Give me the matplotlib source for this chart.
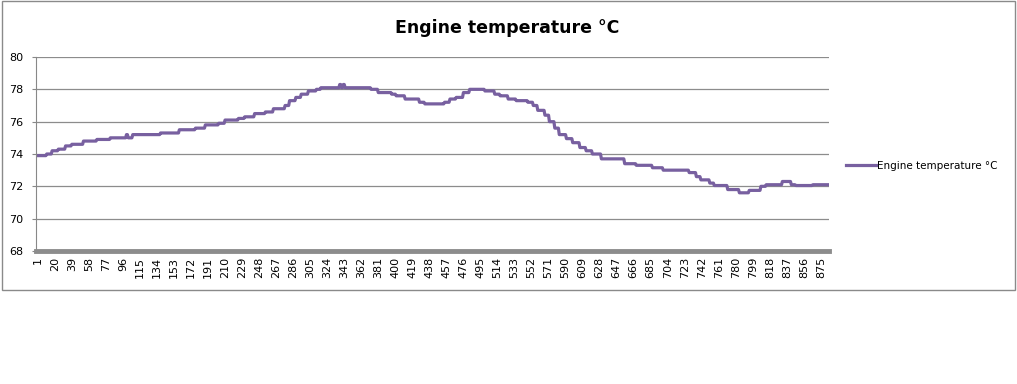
import numpy as np
import matplotlib.pyplot as plt
from matplotlib.patches import Rectangle

# step levels of the logged temperature and the last sample index of each level
levels = [73.9, 74.0, 74.2, 74.3, 74.5, 74.6, 74.8, 74.9, 75.0, 75.2, 75.0, 75.2, 75.3,
          75.5, 75.6, 75.8, 75.9, 76.1, 76.2, 76.3, 76.5, 76.6, 76.8, 77.0, 77.3,
          77.5, 77.7, 77.9, 78.0, 78.1, 78.3, 78.1, 78.3, 78.1, 78.0, 77.8, 77.7,
          77.6, 77.4, 77.2, 77.1, 77.2, 77.4, 77.5, 77.8, 78.0, 77.9, 77.7, 77.6,
          77.4, 77.3, 77.2, 77.0, 76.7, 76.4, 76.0, 75.6, 75.2, 74.95, 74.7, 74.4,
          74.2, 74.0, 73.7, 73.4, 73.3, 73.15, 73.0, 72.85, 72.6, 72.4, 72.2,
          72.05, 71.8, 71.6, 71.75, 72.0, 72.1, 72.3, 72.1, 72.05, 72.1]
ends = [10, 16, 23, 31, 38, 51, 66, 81, 99, 101, 106, 137, 158,
        176, 187, 202, 209, 224, 231, 242, 254, 263, 276, 281, 288,
        294, 302, 311, 316, 337, 339, 341, 343, 372, 380, 395, 400,
        410, 426, 432, 454, 460, 467, 475, 482, 499, 510, 516, 525,
        534, 547, 553, 558, 566, 571, 577, 582, 590, 597, 605, 612,
        619, 629, 655, 668, 686, 698, 727, 735, 740, 750, 755,
        770, 783, 794, 807, 813, 831, 841, 846, 865, 883]

runs = np.diff([0] + ends)
temp = np.repeat(levels, runs)
idx = np.arange(1, len(temp) + 1)
tick_pos = np.arange(1, len(temp) + 1, 19)

fig = plt.figure(figsize=(10.17, 3.84), dpi=100)
fig.patches.append(Rectangle((2 / 1017, 1 - 290 / 384), 1013 / 1017, 289 / 384,
                             transform=fig.transFigure, fill=False,
                             edgecolor='#8a8a8a', linewidth=1))

ax = fig.add_axes([36 / 1017, 133 / 384, 793 / 1017, 194 / 384])
ax.plot(idx, temp, color='#7860A0', linewidth=2.3, label='Engine temperature °C')

ax.set_ylim(68, 80)
ax.set_yticks(range(68, 81, 2))
ax.set_xlim(-1, len(temp) + 1)
ax.set_xticks(tick_pos)
ax.set_xticklabels([str(t) for t in tick_pos], rotation=90, fontsize=8)
ax.tick_params(axis='y', labelsize=8, length=3, color='#888888', pad=6)
ax.tick_params(axis='x', length=0, pad=4)
ax.grid(axis='y', color='#8c8c8c', linewidth=0.9)
ax.set_axisbelow(True)
for s in ['top', 'right']:
    ax.spines[s].set_visible(False)
ax.spines['left'].set_color('#888888')
ax.spines['bottom'].set_color('#8c8c8c')
ax.spines['bottom'].set_linewidth(3.5)

fig.text(507 / 1017, 1 - 28 / 384, 'Engine temperature °C', ha='center', va='center',
         fontsize=12.5, fontweight='bold')
ax.legend(loc='center left', bbox_to_anchor=(1.022, 0.438), frameon=False,
          fontsize=7.5, handlelength=2.8, handletextpad=0.15, borderpad=0,
          borderaxespad=0)

plt.savefig('out.png')
